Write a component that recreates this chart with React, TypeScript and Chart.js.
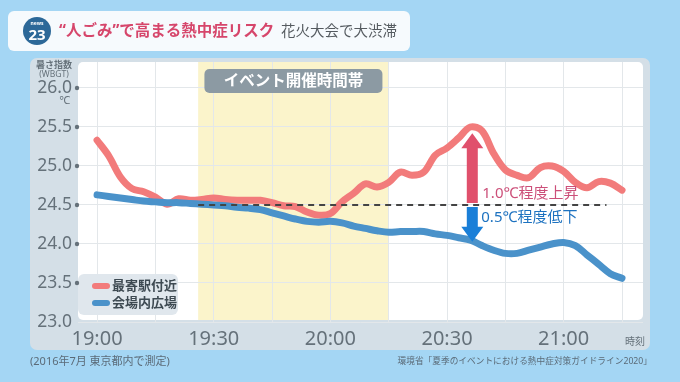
import React, { useEffect, useRef } from "react";
import { Chart, registerables } from "chart.js";

Chart.register(...registerables);

// ---- data (minutes after 19:00) ----
const minutes = [
  0, 3, 6, 9, 12, 15, 18, 21, 24, 27, 30, 33, 36, 39, 42, 45, 48, 51, 54, 57, 60, 63, 66,
  69, 72, 75, 78, 81, 84, 87, 90, 93, 96, 99, 102, 105, 108, 111, 114, 117, 120, 123, 126,
  129, 132, 135,
];
const nearStation = [
  25.33, 25.13, 24.86, 24.71, 24.67, 24.6, 24.51, 24.58, 24.56, 24.57, 24.59, 24.57, 24.56,
  24.56, 24.56, 24.53, 24.49, 24.48, 24.41, 24.37, 24.39, 24.54, 24.65, 24.77, 24.73, 24.79,
  24.92, 24.88, 24.92, 25.14, 25.23, 25.36, 25.5, 25.45, 25.16, 24.95, 24.88, 24.85, 24.98,
  25.0, 24.93, 24.79, 24.72, 24.8, 24.78, 24.69,
];
const venuePlaza = [
  24.63, 24.61, 24.59, 24.57, 24.55, 24.54, 24.53, 24.53, 24.52, 24.51, 24.5, 24.49, 24.47,
  24.46, 24.44, 24.4, 24.36, 24.32, 24.29, 24.28, 24.29, 24.27, 24.23, 24.2, 24.17, 24.15,
  24.16, 24.16, 24.16, 24.13, 24.11, 24.08, 24.05, 23.98, 23.92, 23.88, 23.88, 23.92, 23.96,
  24.0, 24.02, 23.98, 23.86, 23.74, 23.62, 23.56,
];
const seriesNames = ["最寄駅付近", "会場内広場"];
const gridMinutes = [0, 15, 30, 45, 60, 75, 90, 105, 120, 135];
const xLabelMinutes = [0, 30, 60, 90, 120];
const xLabels = ["19:00", "19:30", "20:00", "20:30", "21:00"];
const yTicks = [23.0, 23.5, 24.0, 24.5, 25.0, 25.5, 26.0];
const eventBand = [26, 75];
const referenceLevel = 24.5;
const referenceSpan = [26, 131];
const annotationMinute = 96.5;
const riseTo = 25.42;
const dropTo = 24.03;
const riseText = "1.0℃程度上昇";
const dropText = "0.5℃程度低下";
const eventText = "イベント開催時間帯";
const titleMain = "“人ごみ”で高まる熱中症リスク";
const titleSub = "花火大会で大渋滞";
const noteLeft = "(2016年7月 東京都内で測定)";
const noteRight = "環境省「夏季のイベントにおける熱中症対策ガイドライン2020」";

const FONT = '"Noto Sans", "Noto Sans CJK JP", sans-serif';
const RED = "#f27b7b";
const BLUE = "#4a92ca";
const GRAY_TEXT = "#65717a";

function arrow(ctx: CanvasRenderingContext2D, x: number, yBase: number, yTip: number, color: string) {
  const shaftW = 11;
  const headW = 22;
  const headL = 15;
  const s = yTip < yBase ? -1 : 1;
  const headBase = yTip - s * headL;
  ctx.save();
  ctx.fillStyle = color;
  ctx.beginPath();
  ctx.moveTo(x - shaftW / 2, yBase);
  ctx.lineTo(x - shaftW / 2, headBase);
  ctx.lineTo(x - headW / 2, headBase);
  ctx.lineTo(x, yTip);
  ctx.lineTo(x + headW / 2, headBase);
  ctx.lineTo(x + shaftW / 2, headBase);
  ctx.lineTo(x + shaftW / 2, yBase);
  ctx.closePath();
  ctx.fill();
  ctx.restore();
}

const decor = {
  id: "decor",
  beforeDraw(chart: any) {
    const { ctx, chartArea: ca, scales } = chart;
    const xs = scales.x;
    ctx.save();
    // page background
    ctx.fillStyle = "#a4d6f4";
    ctx.fillRect(0, 0, chart.width, chart.height);
    // title box
    ctx.fillStyle = "#f6fafd";
    ctx.beginPath();
    ctx.roundRect(8, 11, 402, 40, 6);
    ctx.fill();
    // logo
    ctx.fillStyle = "#2c6898";
    ctx.beginPath();
    ctx.arc(37, 31, 14, 0, Math.PI * 2);
    ctx.fill();
    ctx.fillStyle = "#ffffff";
    ctx.textAlign = "center";
    ctx.textBaseline = "middle";
    ctx.font = `bold 5px ${FONT}`;
    ctx.fillText("news", 37, 23.5);
    ctx.font = `bold 15px ${FONT}`;
    ctx.fillText("23", 37, 35.5);
    // title
    ctx.textAlign = "left";
    ctx.fillStyle = "#d6466b";
    ctx.font = `bold 15.5px ${FONT}`;
    ctx.fillText(titleMain, 59, 31.5);
    ctx.fillStyle = "#555b60";
    ctx.font = `14.5px ${FONT}`;
    ctx.fillText(titleSub, 281, 31.5);
    // chart panel
    ctx.fillStyle = "#d4dfe7";
    ctx.beginPath();
    ctx.roundRect(30, 58, 620, 292, 7);
    ctx.fill();
    // white plot area
    ctx.fillStyle = "#ffffff";
    ctx.beginPath();
    ctx.roundRect(ca.left, ca.top, ca.right - ca.left, 320 - ca.top, 5);
    ctx.fill();
    // event band
    const b0 = xs.getPixelForValue(eventBand[0]);
    const b1 = xs.getPixelForValue(eventBand[1]);
    ctx.fillStyle = "#fbf4cb";
    ctx.fillRect(b0, ca.top, b1 - b0, 320 - ca.top);
    // axis titles
    ctx.fillStyle = GRAY_TEXT;
    ctx.textAlign = "center";
    ctx.font = `bold 9px ${FONT}`;
    ctx.fillText("暑さ指数", 54, 65);
    ctx.font = `8.5px ${FONT}`;
    ctx.fillText("(WBGT)", 54, 74.5);
    ctx.font = `11px ${FONT}`;
    ctx.fillText("℃", 65, 101);
    ctx.font = `10px ${FONT}`;
    ctx.fillText("時刻", 635, 342);
    // notes
    ctx.fillStyle = "#5b6b78";
    ctx.textAlign = "left";
    ctx.font = `11px ${FONT}`;
    ctx.fillText(noteLeft, 30, 362);
    ctx.textAlign = "right";
    ctx.font = `8.7px ${FONT}`;
    ctx.fillText(noteRight, 652, 362);
    ctx.restore();
  },
  afterDatasetsDraw(chart: any) {
    const { ctx, chartArea: ca, scales } = chart;
    const xs = scales.x;
    const ys = scales.y;
    ctx.save();
    // event label
    const b0 = xs.getPixelForValue(eventBand[0]);
    const b1 = xs.getPixelForValue(eventBand[1]);
    const cx = (b0 + b1) / 2;
    ctx.fillStyle = "#8c9aa3";
    ctx.beginPath();
    ctx.roundRect(cx - 89, ca.top + 7, 178, 24, 5);
    ctx.fill();
    ctx.fillStyle = "#ffffff";
    ctx.textAlign = "center";
    ctx.textBaseline = "middle";
    ctx.font = `bold 15.5px ${FONT}`;
    ctx.fillText(eventText, cx, ca.top + 19.5);
    // arrows
    const ax = xs.getPixelForValue(annotationMinute);
    const yRef = ys.getPixelForValue(referenceLevel);
    arrow(ctx, ax, yRef - 2, ys.getPixelForValue(riseTo), "#e0506c");
    arrow(ctx, ax, yRef + 2, ys.getPixelForValue(dropTo), "#1a7fd8");
    ctx.textAlign = "left";
    ctx.font = `15px ${FONT}`;
    ctx.fillStyle = "#cc4f79";
    ctx.fillText(riseText, ax + 10, yRef - 11.5);
    ctx.fillStyle = "#1d72c0";
    ctx.fillText(dropText, ax + 9, yRef + 13);
    // legend
    const lx = ca.left;
    const ly = 274;
    ctx.fillStyle = "#e0e7ed";
    ctx.beginPath();
    ctx.roundRect(lx, ly, 100, 41, 6);
    ctx.fill();
    const colors = [RED, BLUE];
    seriesNames.forEach((name, i) => {
      const yy = ly + 12 + i * 17;
      ctx.strokeStyle = colors[i];
      ctx.lineWidth = 6;
      ctx.lineCap = "round";
      ctx.beginPath();
      ctx.moveTo(lx + 17, yy);
      ctx.lineTo(lx + 29, yy);
      ctx.stroke();
      ctx.fillStyle = "#3e4a52";
      ctx.font = `bold 13px ${FONT}`;
      ctx.fillText(name, lx + 34, yy);
    });
    // y dots
    ctx.fillStyle = GRAY_TEXT;
    yTicks.forEach((v) => {
      if (v === yTicks[0]) return;
      ctx.beginPath();
      ctx.arc(ca.left - 1, ys.getPixelForValue(v), 2.2, 0, Math.PI * 2);
      ctx.fill();
    });
    ctx.restore();
  },
};

export default function App() {
  const ref = useRef<HTMLCanvasElement | null>(null);
  useEffect(() => {
    if (!ref.current) return;
    const chart = new Chart(ref.current, {
      type: "line",
      data: {
        datasets: [
          {
            label: "基準",
            data: referenceSpan.map((m) => ({ x: m, y: referenceLevel })),
            borderColor: "#444444",
            borderWidth: 2,
            borderDash: [6, 5],
            pointRadius: 0,
            tension: 0,
            order: 0,
          },
          {
            label: seriesNames[1],
            data: minutes.map((m, i) => ({ x: m, y: venuePlaza[i] })),
            borderColor: BLUE,
            borderWidth: 7,
            pointRadius: 0,
            tension: 0.35,
            borderCapStyle: "round",
            borderJoinStyle: "round",
            order: 1,
          },
          {
            label: seriesNames[0],
            data: minutes.map((m, i) => ({ x: m, y: nearStation[i] })),
            borderColor: RED,
            borderWidth: 7,
            pointRadius: 0,
            tension: 0.35,
            borderCapStyle: "round",
            borderJoinStyle: "round",
            order: 2,
          },
        ],
      },
      options: {
        responsive: false,
        animation: false,
        devicePixelRatio: 1,
        layout: { padding: { left: 0, right: 37, top: 62, bottom: 32 } },
        plugins: { legend: { display: false }, tooltip: { enabled: false } },
        scales: {
          x: {
            type: "linear",
            min: -4.9,
            max: 140.4,
            afterBuildTicks: (s: any) => {
              s.ticks = gridMinutes.map((v) => ({ value: v }));
            },
            afterFit: (s: any) => {
              s.height = 28;
            },
            grid: { color: "#e3e7ea", drawTicks: false },
            border: { display: false },
            ticks: {
              autoSkip: false,
              maxRotation: 0,
              padding: 5,
              color: GRAY_TEXT,
              font: { family: FONT, size: 20 },
              callback: (v: any) => {
                const i = xLabelMinutes.indexOf(Number(v));
                return i >= 0 ? xLabels[i] : "";
              },
            },
          },
          y: {
            type: "linear",
            min: 23,
            max: 26.333,
            afterBuildTicks: (s: any) => {
              s.ticks = yTicks.map((v) => ({ value: v }));
            },
            afterFit: (s: any) => {
              s.width = 78;
            },
            grid: { color: "#e3e7ea", drawTicks: false },
            border: { display: false },
            ticks: {
              padding: 6,
              color: GRAY_TEXT,
              font: { family: FONT, size: 17.5 },
              callback: (v: any) => Number(v).toFixed(1),
            },
          },
        },
      },
      plugins: [decor],
    } as any);
    return () => chart.destroy();
  }, []);
  return (
    <div style={{ position: "fixed", left: 0, top: 0, width: 680, height: 382, background: "#a4d6f4" }}>
      <canvas ref={ref} width={680} height={382} style={{ display: "block" }} />
    </div>
  );
}
